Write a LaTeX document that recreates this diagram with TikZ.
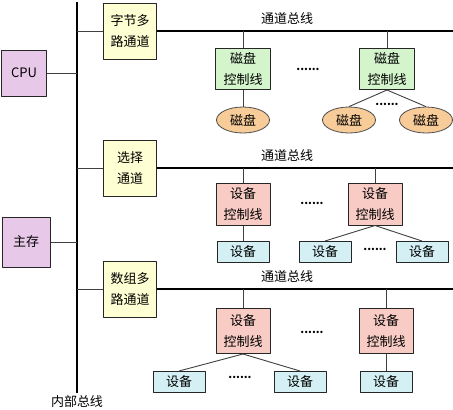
\documentclass[tikz,border=0pt]{standalone}
\usepackage{fontspec}
\setmainfont{Noto Sans CJK SC}
\usetikzlibrary{shapes.geometric}
\tikzset{every text node part/.style={align=center}}
\definecolor{hostc}{HTML}{E8C8E8}
\definecolor{chanc}{HTML}{FFFFD4}
\definecolor{dctlc}{HTML}{D4F4CC}
\definecolor{diskc}{HTML}{F8CC98}
\definecolor{ectlc}{HTML}{F8CCC4}
\definecolor{devc}{HTML}{D4F0F4}
\tikzset{
	box/.style={draw=black!85, line width=1pt, inner sep=0pt, font=\fontsize{13}{21}\selectfont},
	host/.style={box, fill=hostc, minimum width=45pt, minimum height=46pt},
	chan/.style={box, fill=chanc, minimum width=53pt, minimum height=56pt},
	dctl/.style={box, fill=dctlc, minimum width=55pt, minimum height=41pt},
	ectl/.style={box, fill=ectlc, minimum width=54pt, minimum height=42pt},
	disk/.style={ellipse, draw=black!70, line width=0.8pt, fill=diskc, inner sep=0pt, minimum width=53pt, minimum height=26pt, font=\fontsize{13}{15}\selectfont},
	dev/.style={box, fill=devc, minimum width=52pt, minimum height=21pt, font=\fontsize{13}{15}\selectfont},
	dots/.style={font=\fontsize{11}{11}\selectfont\bfseries, inner sep=0pt},
	lab/.style={font=\fontsize{13}{15}\selectfont, inner sep=0pt},
	link/.style={draw=black!75, line width=0.9pt},
	mainbus/.style={draw=black, line width=2.6pt},
	chbus/.style={draw=black, line width=2.2pt}
}

\begin{document}
\begin{tikzpicture}[x=1pt, y=-1pt, line cap=butt, line join=round]
	\useasboundingbox (0,0) rectangle (453,410);
	
	% Internal Bus
	\coordinate (bustop) at (77,2);
	\coordinate (busbot) at (77,393);
	\coordinate (rim) at (453,0);
	\coordinate (labx) at (287,0);
	\draw[mainbus] (bustop) -- (busbot);
	\node[lab] (buslab) at (77,402) {内部总线};
	
	% CPU and Main Memory
	\node[host] (cpu) at (24,73) {CPU};
	\node[host, minimum width=48pt, minimum height=50pt] (mem) at (26,242) {主存};
	\draw[link] (cpu.east) -- (cpu.east -| bustop);
	\draw[link] (mem.east) -- (mem.east -| bustop);
	
	% Channels
	\node[chan] (mux) at (130,31) {字节多\\路通道};
	\node[chan] (sel) at (130,168) {选择\\通道};
	\node[chan] (blk) at (130,289) {数组多\\路通道};
	\foreach \c in {mux,sel,blk}
	{
		\draw[link] (\c.west) -- (\c.west -| bustop);
		\coordinate (\c bus) at (\c.east -| rim);
		\draw[chbus] (\c.east) -- (\c bus);
		\node[lab] (\c lab) at ([yshift=12pt]\c.east -| labx) {通道总线};
	}
	
	% Byte Multiplexer: Disks
	\node[dctl] (dc1) at (243,69) {磁盘\\控制线};
	\node[dctl] (dc2) at (387,69) {磁盘\\控制线};
	\node[disk] (dk1) at (243,120) {磁盘};
	\node[disk] (dk2) at (349,120) {磁盘};
	\node[disk] (dk3) at (426,120) {磁盘};
	\node[dots] (dd1) at (308,69) {......};
	\node[dots] (dd2) at (387,104) {......};
	\draw[link] (dc1.north) -- (dc1.north |- muxbus);
	\draw[link] (dc2.north) -- (dc2.north |- muxbus);
	\draw[link] (dc1) -- (dk1);
	\draw[link] (dk2.north) -- (dc2.south) -- (dk3.north);
	
	% Selector: Devices
	\node[ectl] (ec1) at (243,204) {设备\\控制线};
	\node[ectl] (ec2) at (375,204) {设备\\控制线};
	\node[dev] (dv1) at (243,252) {设备};
	\node[dev] (dv2) at (325,252) {设备};
	\node[dev] (dv3) at (422,252) {设备};
	\node[dots] (ed1) at (312,203) {......};
	\node[dots] (ed2) at (375,249) {......};
	\draw[link] (ec1.north) -- (ec1.north |- selbus);
	\draw[link] (ec2.north) -- (ec2.north |- selbus);
	\draw[link] (ec1) -- (dv1);
	\draw[link] (dv2.north) -- (ec2.south) -- (dv3.north);
	
	% Block Multiplexer: Devices
	\node[ectl, minimum height=45pt] (ec3) at (243,331) {设备\\控制线};
	\node[ectl, minimum height=45pt] (ec4) at (386,331) {设备\\控制线};
	\node[dev] (dv4) at (179,382) {设备};
	\node[dev] (dv5) at (300,382) {设备};
	\node[dev] (dv6) at (386,382) {设备};
	\node[dots] (fd1) at (312,332) {......};
	\node[dots] (fd2) at (240,377) {......};
	\draw[link] (ec3.north) -- (ec3.north |- blkbus);
	\draw[link] (ec4.north) -- (ec4.north |- blkbus);
	\draw[link] (dv4.north) -- (ec3.south) -- (dv5.north);
	\draw[link] (ec4) -- (dv6);
\end{tikzpicture}
\end{document}
